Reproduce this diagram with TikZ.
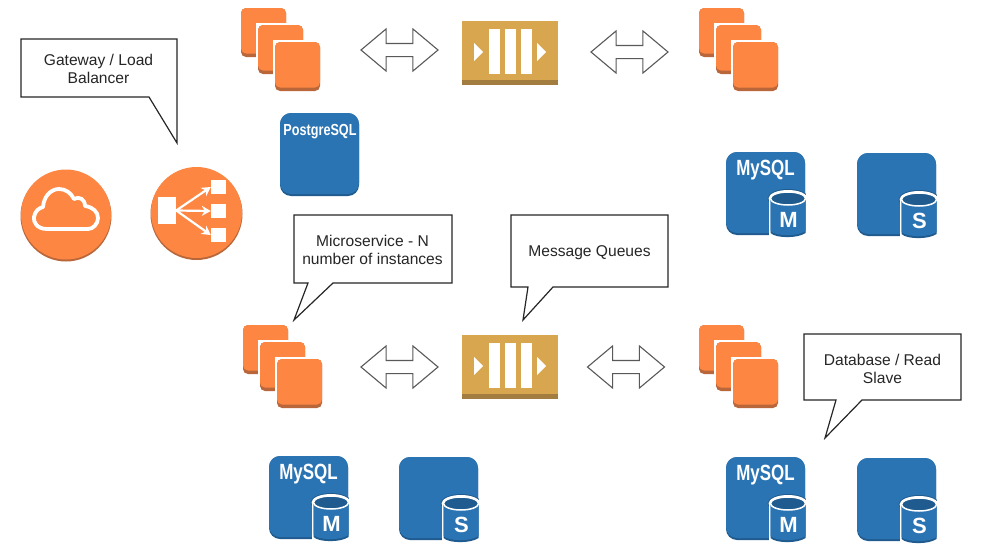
\documentclass[tikz,border=0pt]{standalone}
\usepackage{fontspec}
\setmainfont{Liberation Sans}
\usetikzlibrary{shapes.arrows,arrows.meta}
\definecolor{awsorange}{HTML}{FD8642}
\definecolor{awsorangedk}{HTML}{B9673A}
\definecolor{awsblue}{HTML}{2B74B3}
\definecolor{awsbluedk}{HTML}{1F5B8F}
\definecolor{awsgold}{HTML}{D9A650}
\definecolor{awsgolddk}{HTML}{A37C3F}
\definecolor{inkline}{gray}{0.15}
\tikzset{
  capt/.style={font=\fontsize{15.6}{18}\selectfont,text=black!85,align=center},
  dbname/.style={font=\bfseries\fontsize{22}{22}\selectfont,text=white,inner sep=0pt,xscale=.77},
  dbletter/.style={font=\bfseries\fontsize{22}{22}\selectfont,text=white,inner sep=0pt},
  bubble/.style={draw=inkline,fill=white,line width=1.2pt,line join=miter},
  flow/.style={draw=black!65,fill=white,line width=1.1pt,double arrow,double arrow head extend=14.5pt,
    double arrow tip angle=80,double arrow head indent=0pt,minimum height=77pt,minimum width=42pt,
    inner xsep=0pt,inner ysep=6pt},
  lbline/.style={white,line width=2.2pt,-{Stealth[length=9pt,width=10pt]}},
  % one instance square, anchored at its top left corner
  pics/inst/.style={code={
    \fill[white] (-2,-2) rectangle (47,51);
    \fill[awsorangedk,rounded corners=5pt] (0,0) rectangle (45,49);
    \fill[awsorange,rounded corners=5pt] (0,0) rectangle (45,45.5);
  }},
  pics/stack/.style={code={
    \pic at (0,0) {inst};
    \pic at (17,17) {inst};
    \pic at (34,34) {inst};
  }},
  pics/queue/.style={code={
    \fill[awsgold] (0,0) rectangle (96,64);
    \fill[awsgolddk] (0,59) rectangle (96,64);
    \foreach \xb in {27,43,59}
      \fill[white] (\xb,8) rectangle ++(10.5,45);
    \fill[white] (12,22) -- (21,31) -- (12,40) -- cycle;
    \fill[white] (75,22) -- (84,31) -- (75,40) -- cycle;
  }},
  pics/dbplain/.style={code={
    \fill[awsbluedk,rounded corners=11pt] (0,0) rectangle (79,83);
    \fill[awsblue,rounded corners=11pt] (0,0) rectangle (79,81);
  }},
  % blue box with the white-edged cylinder at its lower right corner
  pics/dbcyl/.style={code={
    \pic at (0,0) {dbplain};
    \fill[awsbluedk] (62,46.5) ellipse [x radius=20.5,y radius=9.5];
    \fill[white] (62,46.5) ellipse [x radius=19.5,y radius=8.5];
    \fill[white] (42.5,46.5) rectangle (82,88);
    \fill[awsbluedk] (44.5,46.5) -- (44.5,81) .. controls (50,86.5) and (72,86.5) .. (79.5,81) -- (79.5,46.5) -- cycle;
    \fill[awsblue] (44.5,46.5) -- (44.5,79) .. controls (50,84.5) and (72,84.5) .. (79.5,79) -- (79.5,46.5) -- cycle;
    \fill[awsbluedk,draw=white,line width=1.5pt] (62,46.5) ellipse [x radius=17.5,y radius=6.5];
    \fill[white] (79.5,30) rectangle (84,90);
  }},
  pics/dbmaster/.style={code={
    \pic at (0,0) {dbcyl};
    \node[dbname] (-name) at (39.5,18) {MySQL};
    \node[dbletter] (-role) at (62.5,67.5) {M};
  }},
  pics/dbslave/.style={code={
    \pic at (0,0) {dbcyl};
    \node[dbletter] (-role) at (62.5,67.5) {S};
  }},
}
\begin{document}
\begin{tikzpicture}[x=1pt,y=-1pt]
  \useasboundingbox (0,0) rectangle (991,546);
  % internet and load balancer
  \fill[awsorangedk] (66,216) circle (45.5);
  \fill[awsorange] (66,214.5) circle (45);
  \draw[white,line width=3.8pt,line join=round] (47,229) .. controls (37,229) and (33,222) .. (34,217)
    .. controls (35,211) and (39,208) .. (43,207) .. controls (44,195) and (52,189) .. (59,189)
    .. controls (66,189) and (71,193) .. (74,199) .. controls (79,196) and (85,199) .. (85,206)
    .. controls (93,207) and (98,212) .. (98,218) .. controls (98,224) and (93,229) .. (88,229) -- cycle;
  \fill[awsorangedk] (196.5,214) circle (46);
  \fill[awsorange] (196.5,212.5) circle (45.5);
  \node[fill=white,inner sep=0pt,minimum width=18pt,minimum height=27pt] (lbsrc) at (167,210.5) {};
  \foreach \yr/\nm in {187/lbtop,211/lbmid,235/lbbot} {
    \node[fill=white,inner sep=0pt,minimum width=15pt,minimum height=14pt] (\nm) at (218.5,\yr) {};
    \draw[lbline] (lbsrc.east) -- (\nm.west);
  }
  % microservices
  \pic at (241,8) {stack};
  \pic at (699,8) {stack};
  \pic at (243,325) {stack};
  \pic at (699,325) {stack};
  % queues
  \pic at (462,21) {queue};
  \pic at (462,335) {queue};
  % arrows
  \node[flow] (flowa) at (399.5,50) {};
  \node[flow] (flowb) at (629.5,52) {};
  \node[flow] (flowc) at (399.5,367) {};
  \node[flow] (flowd) at (626,367) {};
  % databases
  \pic at (280,113) {dbplain};
  \node[font=\bfseries\fontsize{16}{16}\selectfont,text=white,inner sep=0pt,xscale=.79] (pgname) at (320,132) {PostgreSQL};
  \pic (mya) at (726,152) {dbmaster};
  \pic (sla) at (857,153) {dbslave};
  \pic (myb) at (269,456) {dbmaster};
  \pic (slb) at (399,457) {dbslave};
  \pic (myc) at (726,457) {dbmaster};
  \pic (slc) at (857,458) {dbslave};
  % notes
  \draw[bubble] (21,39) -- (177,39) -- (177,143) -- (149,97) -- (21,97) -- cycle;
  \node[capt] (gwnote) at (98.5,69) {Gateway / Load\\Balancer};
  \draw[bubble] (294,215) -- (452,215) -- (452,283) -- (333,283) -- (294,320) -- (308,283) -- (294,283) -- cycle;
  \node[capt] (msnote) at (372.5,249.5) {Microservice - N\\number of instances};
  \draw[bubble] (511,215) -- (668,215) -- (668,287) -- (553,287) -- (523,320) -- (528,287) -- (511,287) -- cycle;
  \node[capt] (qnote) at (589.5,253) {Message Queues};
  \draw[bubble] (804,334) -- (961,334) -- (961,400) -- (862,400) -- (825,438) -- (836,400) -- (804,400) -- cycle;
  \node[capt] (dbnote) at (882.5,369) {Database / Read\\Slave};
\end{tikzpicture}
\end{document}
